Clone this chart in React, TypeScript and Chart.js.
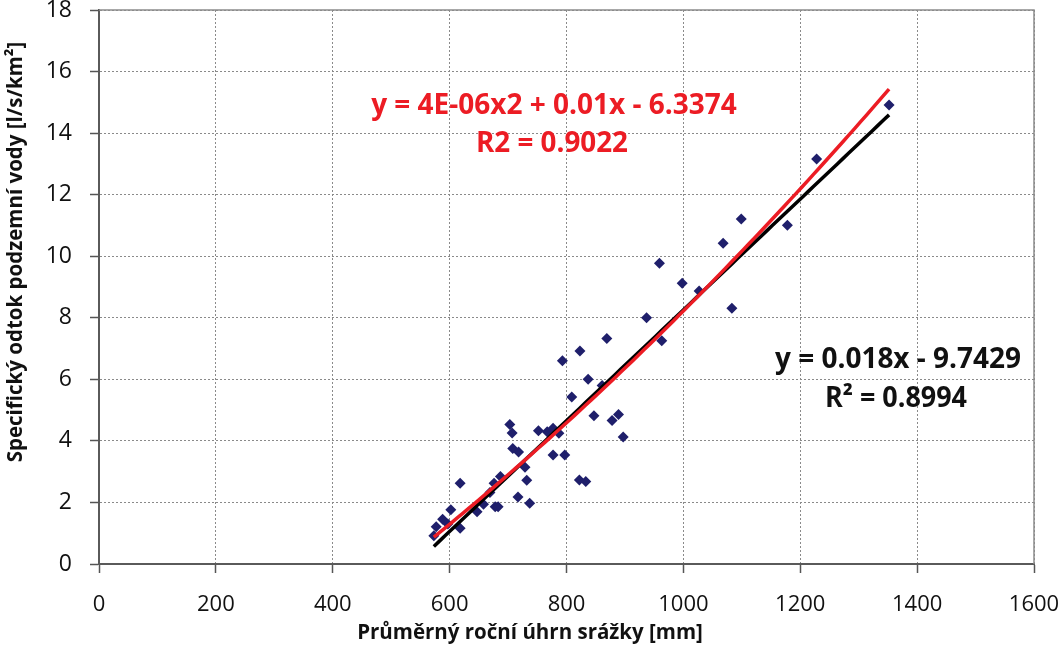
import React, { useEffect, useRef } from 'react';
import { Chart, registerables } from 'chart.js';

Chart.register(...registerables);

// Scatter data: mean annual precipitation [mm] vs specific groundwater runoff [l/s/km2]
const precipitation = [
  573, 577, 588, 597, 602, 618, 618, 647, 658, 669, 678, 683, 676, 687, 717, 729, 732, 737,
  703, 707, 708, 718, 752, 767, 777, 787, 777, 797, 809, 793, 823, 869, 837, 861, 847, 878,
  889, 897, 822, 833, 937, 963, 959, 998, 1027, 1083, 1068, 1099, 1178, 1228, 1352,
];
const runoff = [
  0.92, 1.21, 1.45, 1.30, 1.76, 1.16, 2.62, 1.70, 1.94, 2.32, 1.86, 1.86, 2.62, 2.84, 2.18, 3.14, 2.72, 1.97,
  4.53, 4.26, 3.75, 3.64, 4.33, 4.30, 4.41, 4.25, 3.54, 3.54, 5.43, 6.60, 6.92, 7.33, 6.00, 5.80, 4.82, 4.66,
  4.86, 4.13, 2.73, 2.68, 8.00, 7.25, 9.77, 9.12, 8.87, 8.31, 10.42, 11.21, 11.01, 13.16, 14.91,
];

// Trend line coefficients
const linearCoef = { slope: 0.018, intercept: -9.7429 };
const polyCoef = { a: 4.2e-6, b: 0.0106, c: -6.58 };

const polyLabel = ['y = 4E-06x2 + 0.01x - 6.3374', 'R2 = 0.9022'];
const linearLabel = ['y = 0.018x - 9.7429', 'R² = 0.8994'];
const xTitle = 'Průměrný roční úhrn srážky [mm]';
const yTitle = 'Specifický odtok podzemní vody [l/s/km²]';

const xAxis = { min: 0, max: 1600, step: 200 };
const yAxis = { min: 0, max: 18, step: 2 };

const TEXT = '#111111';
const RED = '#ec1c24';
const FONT = '"Open Sans", "Liberation Sans", sans-serif';

function trendPoints(fn: (x: number) => number) {
  const lo = Math.min(...precipitation);
  const hi = Math.max(...precipitation);
  const pts: { x: number; y: number }[] = [];
  for (let x = lo; x < hi; x += 10) pts.push({ x, y: fn(x) });
  pts.push({ x: hi, y: fn(hi) });
  return pts;
}

const annotationPlugin = {
  id: 'annotations',
  afterDraw(chart: any) {
    const { ctx, chartArea } = chart;
    ctx.save();
    // plot frame top/right
    ctx.strokeStyle = '#8c8c8c';
    ctx.lineWidth = 1.5;
    ctx.beginPath();
    ctx.moveTo(chartArea.left, chartArea.top);
    ctx.lineTo(chartArea.right, chartArea.top);
    ctx.lineTo(chartArea.right, chartArea.bottom);
    ctx.stroke();

    ctx.textAlign = 'center';
    ctx.textBaseline = 'middle';

    ctx.fillStyle = RED;
    ctx.font = `bold 28px ${FONT}`;
    ctx.fillText(polyLabel[0], 554, 106, 368);
    ctx.fillText(polyLabel[1], 552, 144, 152);

    ctx.fillStyle = TEXT;
    ctx.fillText(linearLabel[0], 898, 360, 246);
    ctx.fillText(linearLabel[1], 896, 399, 142);

    // axis titles
    ctx.font = `bold 20.5px ${FONT}`;
    ctx.fillStyle = TEXT;
    ctx.fillText(xTitle, 530, 633, 348);
    ctx.translate(16, 252);
    ctx.rotate(-Math.PI / 2);
    ctx.fillText(yTitle, 0, 0, 436);
    ctx.restore();
  },
};

export default function App() {
  const canvasRef = useRef<HTMLCanvasElement | null>(null);

  useEffect(() => {
    document.body.style.margin = '0';
    const canvas = canvasRef.current;
    if (!canvas) return;

    const scatter = precipitation.map((x, i) => ({ x, y: runoff[i] }));
    const linear = trendPoints((x) => linearCoef.slope * x + linearCoef.intercept);
    const poly = trendPoints((x) => polyCoef.a * x * x + polyCoef.b * x + polyCoef.c);

    const gridCommon = {
      color: '#8a8a8a',
      lineWidth: 1,
      tickColor: '#555555',
      tickLength: 9,
      tickWidth: 1.5,
      tickBorderDash: [],
    };

    const chart = new Chart(canvas, {
      type: 'scatter',
      data: {
        datasets: [
          {
            label: 'poly',
            data: poly,
            showLine: true,
            borderColor: RED,
            borderWidth: 3.5,
            pointRadius: 0,
            order: 1,
          },
          {
            label: 'linear',
            data: linear,
            showLine: true,
            borderColor: '#000000',
            borderWidth: 3.5,
            pointRadius: 0,
            order: 2,
          },
          {
            label: 'data',
            data: scatter,
            pointStyle: 'rectRot',
            pointRadius: 5.5,
            backgroundColor: '#1f1f6b',
            borderColor: '#1f1f6b',
            borderWidth: 0,
            order: 3,
          },
        ],
      },
      options: {
        responsive: false,
        animation: false,
        devicePixelRatio: 1,
        layout: { padding: { top: 10, right: 29, left: 0, bottom: 0 } },
        plugins: { legend: { display: false }, tooltip: { enabled: false } },
        scales: {
          x: {
            type: 'linear',
            min: xAxis.min,
            max: xAxis.max,
            ticks: {
              stepSize: xAxis.step,
              color: TEXT,
              padding: 19,
              font: { family: FONT, size: 22 },
              callback: (v: any) => String(v),
            },
            grid: gridCommon,
            border: { color: '#5a5a5a', width: 2, dash: [2, 2] },
            afterFit: (s: any) => {
              s.height = 83;
              s.paddingLeft = 0;
              s.paddingRight = 0;
            },
          },
          y: {
            type: 'linear',
            min: yAxis.min,
            max: yAxis.max,
            ticks: {
              stepSize: yAxis.step,
              color: TEXT,
              padding: 18,
              font: { family: FONT, size: 23 },
              callback: (v: any) => String(v),
            },
            grid: gridCommon,
            border: { color: '#5a5a5a', width: 2, dash: [2, 2] },
            afterFit: (s: any) => {
              s.width = 99;
              s.paddingTop = 0;
              s.paddingBottom = 0;
            },
          },
        },
      },
      plugins: [annotationPlugin],
    } as any);

    return () => chart.destroy();
  }, []);

  return (
    <div style={{ width: 1063, height: 647 }}>
      <canvas ref={canvasRef} width={1063} height={647} style={{ display: 'block' }} />
    </div>
  );
}
